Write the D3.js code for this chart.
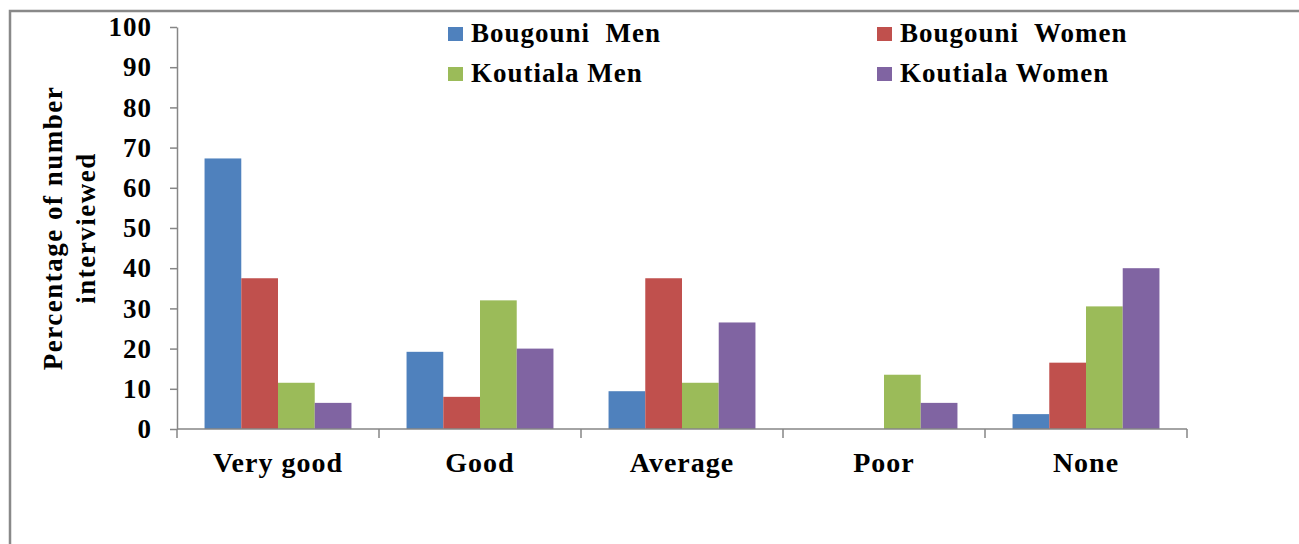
<!DOCTYPE html>
<html>
<head>
<meta charset="utf-8">
<script src="https://cdn.jsdelivr.net/npm/d3@7"></script>
<style>
  body { margin: 0; background: #fff; }
  text { font-family: "Liberation Serif", "Times New Roman", serif; font-weight: bold; fill: #000; }
</style>
</head>
<body>
<div id="chart"></div>
<script>

const categories = ['Very good', 'Good', 'Average', 'Poor', 'None']
const seriesNames = ['Bougouni  Men', 'Bougouni  Women', 'Koutiala Men', 'Koutiala Women']
const colors = ['#4F81BD', '#C0504D', '#9BBB59', '#8064A2']

const bougouniMen = [67.3, 19.2, 9.4, 0, 3.7]
const bougouniWomen = [37.5, 8.0, 37.5, 0, 16.5]
const koutialaMen = [11.5, 32.0, 11.5, 13.5, 30.5]
const koutialaWomen = [6.5, 20.0, 26.5, 6.5, 40.0]

const yTicks = [0, 10, 20, 30, 40, 50, 60, 70, 80, 90, 100]

const series = [bougouniMen, bougouniWomen, koutialaMen, koutialaWomen]

const width = 1299
const height = 544

const svg = d3.select('#chart')
    .append('svg')
    .attr('width', width)
    .attr('height', height)

// outer frame
svg.append('rect')
    .attr('x', 10)
    .attr('y', 11)
    .attr('width', 1300)
    .attr('height', 550)
    .attr('fill', 'none')
    .attr('stroke', '#898989')
    .attr('stroke-width', 2.5)

const x0 = d3.scaleBand()
    .domain(categories)
    .range([177, 1187])
    .padding(0)

const x1 = d3.scaleBand()
    .domain(d3.range(series.length))
    .range([x0.bandwidth() * 0.75 / 5.5, x0.bandwidth() - x0.bandwidth() * 0.75 / 5.5])
    .padding(0)

const y = d3.scaleLinear()
    .domain([0, 100])
    .range([429, 27])

// bars
const groups = svg.append('g')
    .selectAll('g')
    .data(categories)
    .join('g')
    .attr('transform', (d) => `translate(${x0(d)},0)`)

groups.selectAll('rect')
    .data((d, i) => series.map((s, k) => ({ k: k, v: s[i] })))
    .join('rect')
    .attr('x', (d) => x1(d.k))
    .attr('width', x1.bandwidth())
    .attr('y', (d) => y(d.v))
    .attr('height', (d) => y(0) - y(d.v))
    .attr('fill', (d) => colors[d.k])

// y axis
const yAxis = svg.append('g')
    .attr('transform', 'translate(177,0)')
    .call(d3.axisLeft(y).tickValues(yTicks).tickSize(7).tickPadding(18).tickSizeOuter(0))

yAxis.select('.domain').attr('stroke', '#868686').attr('stroke-width', 1.5)
yAxis.selectAll('.tick line').attr('stroke', '#868686').attr('stroke-width', 1.5)
yAxis.selectAll('.tick text')
    .attr('font-size', 27)
    .attr('font-family', '"Liberation Serif", serif')
    .attr('font-weight', 'bold')
    .attr('letter-spacing', 1)
    .attr('fill', '#000')

// x axis
const xAxis = svg.append('g')
xAxis.append('line')
    .attr('x1', x0.range()[0])
    .attr('x2', x0.range()[1])
    .attr('y1', y(0))
    .attr('y2', y(0))
    .attr('stroke', '#868686')
    .attr('stroke-width', 1.5)

xAxis.selectAll('line.tick')
    .data(categories.map((c) => x0(c)).concat([x0.range()[1]]))
    .join('line')
    .attr('class', 'tick')
    .attr('x1', (d) => d)
    .attr('x2', (d) => d)
    .attr('y1', y(0))
    .attr('y2', y(0) + 9)
    .attr('stroke', '#868686')
    .attr('stroke-width', 1.5)

xAxis.selectAll('text')
    .data(categories)
    .join('text')
    .attr('x', (d) => x0(d) + x0.bandwidth() / 2)
    .attr('y', 472)
    .attr('text-anchor', 'middle')
    .attr('font-size', 28)
    .attr('letter-spacing', 1)
    .text((d) => d)

// y axis title
const yTitle = svg.append('text')
    .attr('transform', 'translate(0,228) rotate(-90)')
    .attr('text-anchor', 'middle')
    .attr('font-size', 27)
    .attr('letter-spacing', 1.5)
yTitle.append('tspan').attr('x', 0).attr('y', 62).text('Percentage of  number')
yTitle.append('tspan').attr('x', 0).attr('y', 95).text('interviewed')

// legend
const legendPos = [[448, 27], [877, 27], [448, 67], [877, 67]]

const legend = svg.append('g')
    .selectAll('g')
    .data(seriesNames)
    .join('g')
    .attr('transform', (d, i) => `translate(${legendPos[i][0]},${legendPos[i][1]})`)

legend.append('rect')
    .attr('width', 15)
    .attr('height', 14)
    .attr('fill', (d, i) => colors[i])

legend.append('text')
    .attr('x', 23)
    .attr('y', 15)
    .attr('font-size', 27)
    .attr('letter-spacing', 1)
    .style('white-space', 'pre')
    .text((d) => d)

</script>
</body>
</html>
